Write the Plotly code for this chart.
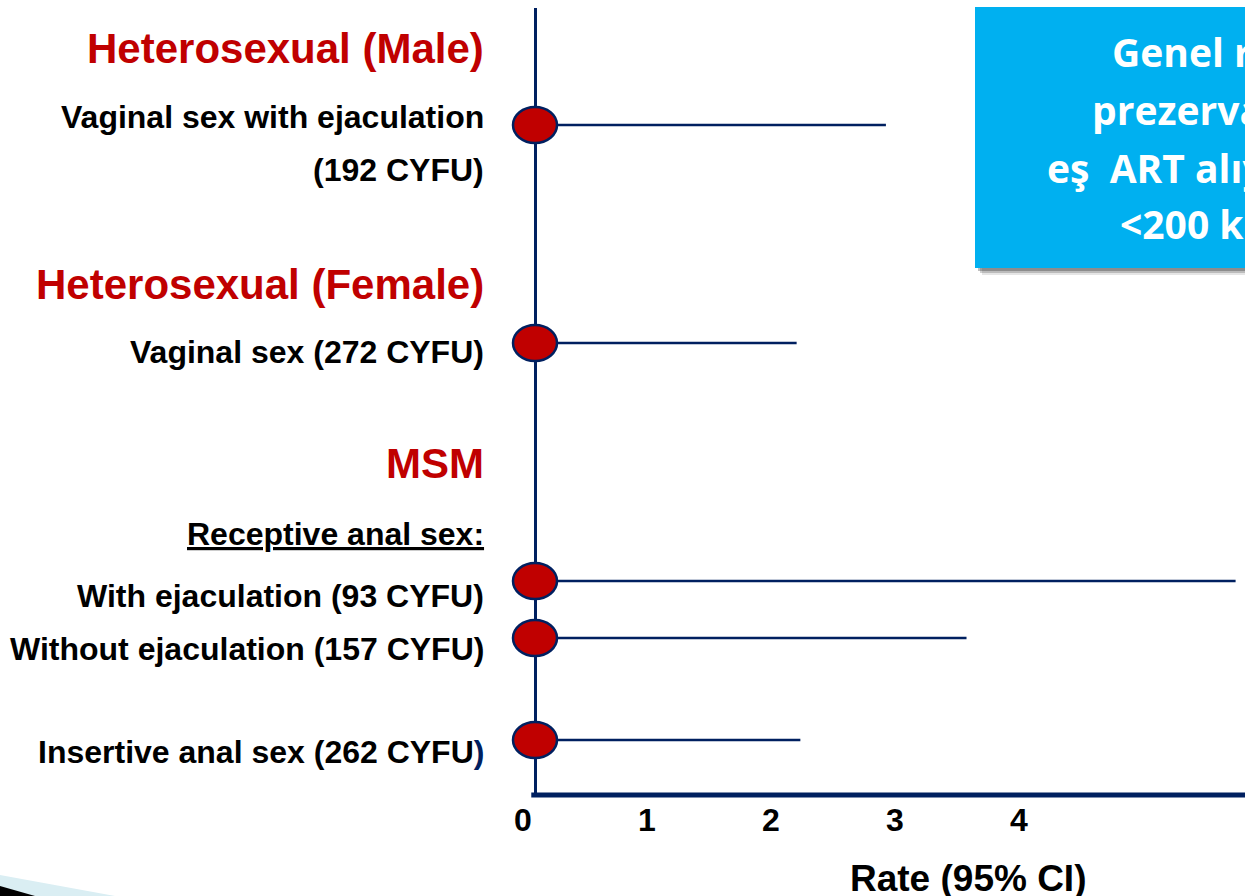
import plotly.graph_objects as go

# ── Data ─────────────────────────────────────────────────────────────────────
ROW_LABELS = [
    "Vaginal sex with ejaculation<br>(192 CYFU)",
    "Vaginal sex (272 CYFU)",
    "With ejaculation (93 CYFU)",
    "Without ejaculation (157 CYFU)",
    "Insertive anal sex (262 CYFU<span style='color:#002060'>)</span>",
]
RATE = [0, 0, 0, 0, 0]
UPPER_CI = [2.83, 2.11, 5.65, 3.48, 2.14]
TICK_VALS = [0, 1, 2, 3, 4]
GROUP_HEADINGS = ["Heterosexual (Male)", "Heterosexual (Female)", "MSM"]
BOX_LINES = ["Genel risk", "prezervatif", "eş  ART alıyor", "<200 kopya"]

# ── Layout (pixel rows on a reversed y axis) ─────────────────────────────────
ROW_Y = [125, 343, 581, 638, 740]
ROW_LABEL_Y = [117, 352, 596, 649, 752]
LINE_GAP = 53
HEADING_Y = [48, 284, 463]
SUB_HEADING_Y = 534
BOX_LINE_Y = [51, 109, 167, 223]
BOX_LINE_X = [1110, 1090, 1045, 1118]

NAVY = "#002060"
DARK_RED = "#C00000"
FONT = "Arial, Liberation Sans, sans-serif"

W, H = 1245, 896
ZERO_PX = 535          # where rate 0 sits
L, R, T, B = 495, 0, 8, 103
PX_PER_UNIT = 124


def px_to_paper_x(px):
    return (px - L) / (W - L - R)


def px_to_paper_y(py):
    return (H - B - py) / (H - T - B)


fig = go.Figure()

# CI lines
xs, ys = [], []
for r, u, y in zip(RATE, UPPER_CI, ROW_Y):
    xs += [r, u, None]
    ys += [y, y, None]
fig.add_trace(go.Scatter(
    x=xs, y=ys, mode="lines",
    line=dict(color=NAVY, width=2.5),
    hoverinfo="skip", showlegend=False,
))

# point estimates as ellipses anchored on the data
for r, y in zip(RATE, ROW_Y):
    fig.add_shape(
        type="circle", xref="x", yref="y",
        xsizemode="pixel", ysizemode="pixel",
        xanchor=r, yanchor=y,
        x0=-22, x1=22, y0=-18, y1=18,
        fillcolor=DARK_RED, line=dict(color=NAVY, width=2.5),
        layer="above",
    )

# bottom axis line, from rate 0 to the right edge
fig.add_shape(
    type="line", xref="x", yref="paper",
    x0=-0.03, x1=(W - ZERO_PX) / PX_PER_UNIT,
    y0=px_to_paper_y(795), y1=px_to_paper_y(795),
    line=dict(color=NAVY, width=5), layer="above",
)

# row labels
for text, y in zip(ROW_LABELS, ROW_LABEL_Y):
    for i, part in enumerate(text.split("<br>")):
        fig.add_annotation(
            x=px_to_paper_x(486), xref="paper", y=y + i * LINE_GAP, yref="y",
            text=part, showarrow=False, xanchor="right", yanchor="middle",
            font=dict(family=FONT, size=32, color="black", weight="bold"),
        )

for text, y in zip(GROUP_HEADINGS, HEADING_Y):
    fig.add_annotation(
        x=px_to_paper_x(486), xref="paper", y=y, yref="y",
        text=text, showarrow=False, xanchor="right", yanchor="middle",
        font=dict(family=FONT, size=42, color=DARK_RED, weight="bold"),
    )

fig.add_annotation(
    x=px_to_paper_x(486), xref="paper", y=SUB_HEADING_Y, yref="y",
    text="<u>Receptive anal sex:</u>", showarrow=False,
    xanchor="right", yanchor="middle",
    font=dict(family=FONT, size=32, color="black", weight="bold"),
)

# axis title
fig.add_annotation(
    x=px_to_paper_x(968), xref="paper", y=px_to_paper_y(878), yref="paper",
    text="Rate (95% CI)", showarrow=False, xanchor="center", yanchor="middle",
    font=dict(family=FONT, size=37, color="black", weight="bold"),
)

# blue callout box with shadow
for off, alpha in [(7, 0.10), (5, 0.18), (3, 0.25)]:
    fig.add_shape(
        type="rect", xref="paper", yref="paper",
        x0=px_to_paper_x(975 + off), x1=1.2,
        y0=px_to_paper_y(268 + off), y1=px_to_paper_y(7 + off),
        fillcolor=f"rgba(0,0,0,{alpha})", line=dict(width=0), layer="above",
    )
fig.add_shape(
    type="rect", xref="paper", yref="paper",
    x0=px_to_paper_x(975), x1=1.2,
    y0=px_to_paper_y(268), y1=px_to_paper_y(7),
    fillcolor="#00B0F0", line=dict(width=0), layer="above",
)
for text, x, y in zip(BOX_LINES, BOX_LINE_X, BOX_LINE_Y):
    fig.add_annotation(
        x=px_to_paper_x(x), xref="paper", y=y, yref="y",
        text=text, showarrow=False, xanchor="left", yanchor="middle",
        font=dict(family="Open Sans, Lato, sans-serif", size=39,
                  color="white", weight="bold"),
    )

# slide decoration, bottom-left corner
fig.add_shape(
    type="path", xref="paper", yref="paper",
    path=f"M {px_to_paper_x(0)},{px_to_paper_y(875)} L {px_to_paper_x(115)},{px_to_paper_y(896)} "
         f"L {px_to_paper_x(0)},{px_to_paper_y(896)} Z",
    fillcolor="#DAEEF3", line=dict(width=0), layer="above",
)
fig.add_shape(
    type="path", xref="paper", yref="paper",
    path=f"M {px_to_paper_x(0)},{px_to_paper_y(886)} L {px_to_paper_x(35)},{px_to_paper_y(896)} "
         f"L {px_to_paper_x(0)},{px_to_paper_y(896)} Z",
    fillcolor="black", line=dict(width=0), layer="above",
)

fig.update_layout(
    width=W, height=H,
    margin=dict(l=L, r=R, t=T, b=B),
    paper_bgcolor="white", plot_bgcolor="white",
    showlegend=False,
    xaxis=dict(
        range=[-(ZERO_PX - L) / PX_PER_UNIT, (W - ZERO_PX) / PX_PER_UNIT],
        tickvals=TICK_VALS, ticktext=[str(v) for v in TICK_VALS],
        showgrid=False, showline=False,
        zeroline=True, zerolinecolor=NAVY, zerolinewidth=2.5,
        ticks="", ticklabelshift=-12, ticklabelstandoff=5,
        tickfont=dict(family=FONT, size=32, color="black", weight="bold"),
    ),
    yaxis=dict(
        range=[H - B, T], showgrid=False, zeroline=False,
        showline=False, showticklabels=False, ticks="",
    ),
)

# the page's default body margin would push the figure 8px off the corner
fig.write_html(
    "out.html",
    config={"displayModeBar": False},
    post_script="document.body.style.margin='0';",
)
